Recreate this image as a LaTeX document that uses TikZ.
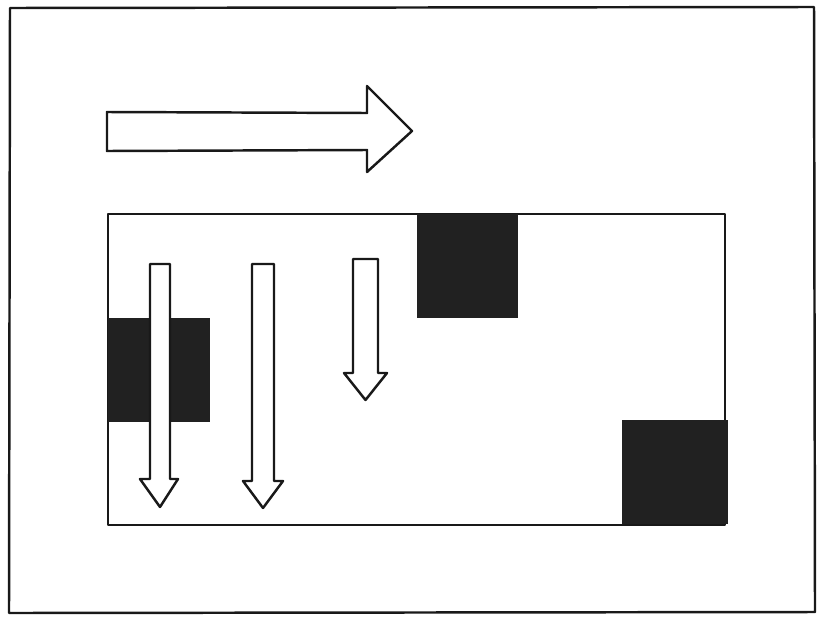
\documentclass[tikz,border=0pt]{standalone}
\usepackage{tikz}
\tikzset{pen/.style={line width=2.1pt,line join=round,black!90},
  ink/.style={fill=black!87},
  hollow/.style={pen,fill=white}}
\begin{document}
\begin{tikzpicture}[x=0.03cm,y=-0.03cm]
\useasboundingbox (0,0) rectangle (819,617);
% --- outer sheet and the big rightward arrow
\draw[pen] (10,8) -- (814,7) -- (815,612) -- (9,613) -- cycle;
\draw[hollow] (107,112) -- (367,113) -- (367,86) -- (412,131) -- (367,172) -- (367,150) -- (107,151) -- cycle;
% --- inner box with the dark blocks
\draw[pen] (108,214) rectangle (725,525);
\fill[ink] (417,214) rectangle (518,318);
\fill[ink] (622,420) rectangle (728,524);
\fill[ink] (108,318) rectangle (210,422);
% --- down arrows: left, right, top, head y, head left, head right, tip
\foreach \l/\r/\t/\h/\a/\b/\p in {150/170/264/479/140/178/507, 252/274/264/481/243/283/508, 353/378/259/373/344/387/400}
  {\draw[hollow] (\l,\t) -- (\r,\t) -- (\r,\h) -- (\b,\h) -- ({(\l+\r)/2},\p) -- (\a,\h) -- (\l,\h) -- cycle;}
\end{tikzpicture}
\end{document}
